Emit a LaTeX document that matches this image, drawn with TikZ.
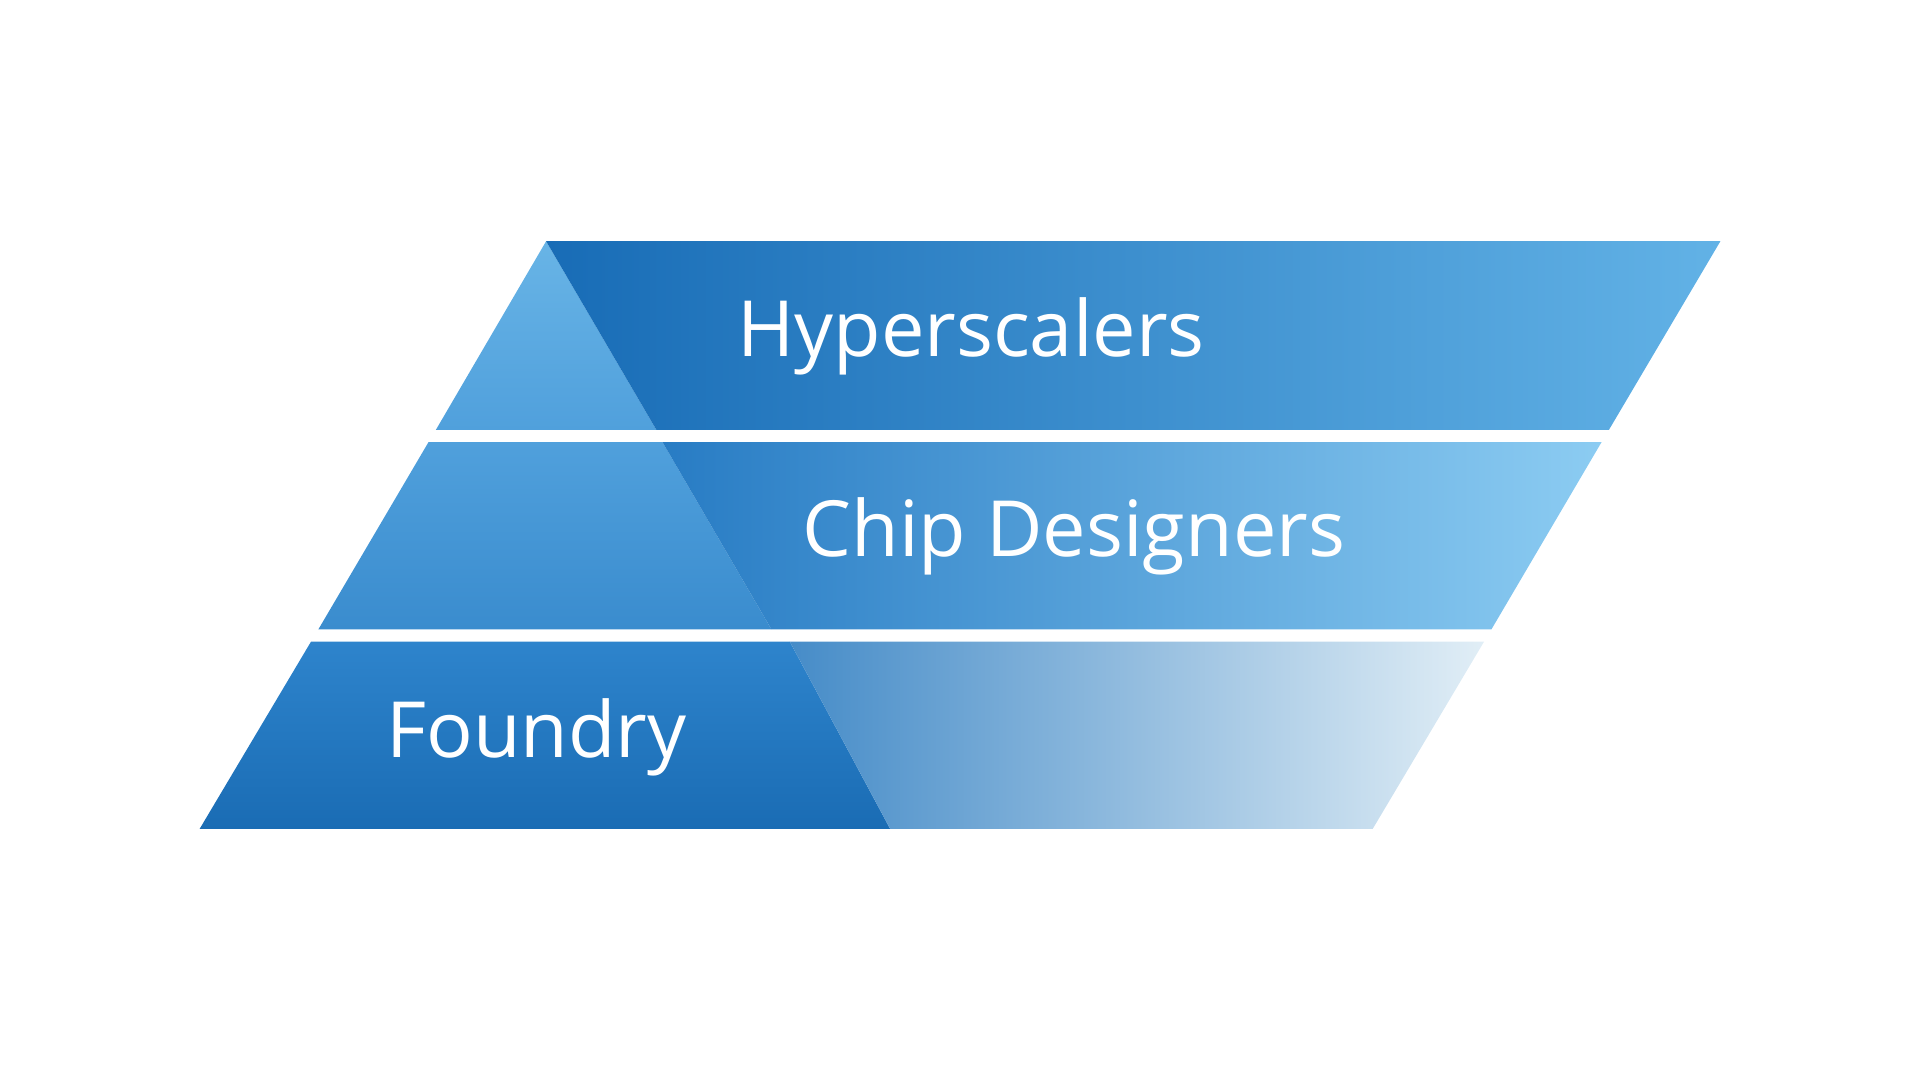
\documentclass[tikz,border=0pt]{standalone}
\usepackage{fontspec}
\setmainfont{Open Sans}
\definecolor{aT}{RGB}{104,180,230}
\definecolor{aB}{RGB}{80,160,220}
\definecolor{aL}{RGB}{24,108,182}
\definecolor{aR}{RGB}{98,178,230}
\definecolor{bT}{RGB}{80,160,220}
\definecolor{bB}{RGB}{58,140,206}
\definecolor{bL}{RGB}{40,124,196}
\definecolor{bR}{RGB}{140,204,242}
\definecolor{cT}{RGB}{46,132,204}
\definecolor{cB}{RGB}{26,108,180}
\definecolor{cL}{RGB}{70,140,200}
\definecolor{cR}{RGB}{225,238,246}
\begin{document}
\begin{tikzpicture}[x=0.01cm,y=-0.01cm,
  lbl/.style={text=white,font=\fontsize{18}{20}\selectfont}]
\useasboundingbox (0,0) rectangle (1568,875.5);
% band 1
\shade[top color=aT,bottom color=aB] (446,197) -- (536,351) -- (356,351) -- cycle;
\shade[left color=aL,right color=aR] (446,197) -- (1405,197) -- (1314,351) -- (536,351) -- cycle;
% band 2
\shade[top color=bT,bottom color=bB] (350,361) -- (541,361) -- (630,514) -- (260,514) -- cycle;
\shade[left color=bL,right color=bR] (541,361) -- (1308,361) -- (1218,514) -- (630,514) -- cycle;
% band 3
\shade[top color=cT,bottom color=cB] (254,524) -- (645,524) -- (727,677) -- (163,677) -- cycle;
\shade[left color=cL,right color=cR] (645,524) -- (1212,524) -- (1121,677) -- (727,677) -- cycle;
\node[lbl] (h) at (793,275) {Hyperscalers};
\node[lbl] (c) at (877,438) {Chip Designers};
\node[lbl] (f) at (438,602) {Foundry};
\end{tikzpicture}
\end{document}
